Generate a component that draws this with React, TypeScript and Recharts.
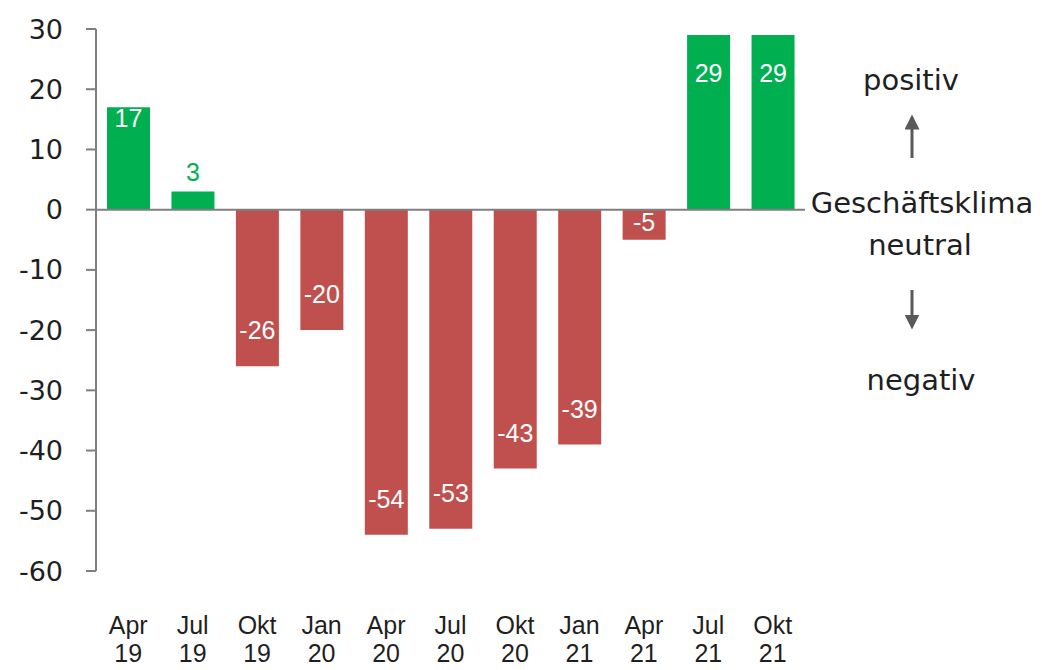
import { BarChart, Bar, XAxis, YAxis, Cell, LabelList, ReferenceLine } from 'recharts';

const quarters = ['Apr', 'Jul', 'Okt', 'Jan', 'Apr', 'Jul', 'Okt', 'Jan', 'Apr', 'Jul', 'Okt'];
const years = ['19', '19', '19', '20', '20', '20', '20', '21', '21', '21', '21'];
const klima = [17, 3, -26, -20, -54, -53, -43, -39, -5, 29, 29];
const yTicks = [30, 20, 10, 0, -10, -20, -30, -40, -50, -60];

const GREEN = '#00b050';
const RED = '#c0504d';
const AXIS = '#7f7f7f';
const TEXT = '#1f1f1f';

const data = klima.map((v, i) => ({ name: `${quarters[i]} ${years[i]}`, q: quarters[i], y: years[i], value: v }));

function XTick({ x, y, payload }: any) {
  const d = data[payload.index] ?? data.find((r) => r.name === payload.value);
  return (
    <text x={x} y={y} textAnchor="middle" fill={TEXT} fontSize={25} fontFamily="'Liberation Sans', Arial, sans-serif">
      <tspan x={x} dy={63}>{d?.q}</tspan>
      <tspan x={x} dy={28}>{d?.y}</tspan>
    </text>
  );
}

function ValueLabel({ x, y, width, height, value }: any) {
  const top = Math.min(y, y + height);
  const bottom = Math.max(y, y + height);
  const cx = x + width / 2;
  let cy = 0;
  let fill = '#ffffff';
  if (value >= 20) cy = top + 38;
  else if (value >= 10) cy = top + 11;
  else if (value > 0) {
    cy = top - 20;
    fill = GREEN;
  } else if (bottom - top > 60) cy = bottom - 36;
  else cy = (top + bottom) / 2 - 3;
  return (
    <text x={cx} y={cy} textAnchor="middle" dominantBaseline="central" fill={fill} fontSize={25} fontFamily="'Liberation Sans', Arial, sans-serif">
      {value}
    </text>
  );
}

const sideFont = "'DejaVu Sans', sans-serif";

export default function App() {
  return (
    <div style={{ position: 'absolute', left: 0, top: 0, width: 1042, height: 670, background: '#fff' }}>
      <BarChart width={1042} height={670} data={data} margin={{ top: 29, right: 237, left: 0, bottom: 0 }}>
        <YAxis
          domain={[-60, 30]}
          ticks={yTicks}
          interval={0}
          width={96}
          stroke={AXIS}
          strokeWidth={2}
          tickSize={10}
          tickMargin={23}
          tick={{ fill: TEXT, fontSize: 27, fontFamily: sideFont }}
        />
        <XAxis dataKey="name" height={99} axisLine={false} tickLine={false} tickSize={0} tickMargin={0} interval={0} tick={<XTick />} />
        <ReferenceLine y={0} stroke={AXIS} strokeWidth={2} />
        <Bar dataKey="value" barSize={43} isAnimationActive={false}>
          {data.map((d, i) => (
            <Cell key={i} fill={d.value >= 0 ? GREEN : RED} />
          ))}
          <LabelList dataKey="value" content={<ValueLabel />} />
        </Bar>
      </BarChart>
      <svg width={1042} height={670} style={{ position: 'absolute', left: 0, top: 0, pointerEvents: 'none' }}>
        <defs>
          <marker id="head" viewBox="0 0 10 10" refX="5" refY="5" markerWidth="5" markerHeight="5" orient="auto-start-reverse">
            <path d="M0,0 L10,5 L0,10 z" fill="#595959" />
          </marker>
        </defs>
        <g fontFamily={sideFont} fontSize={29} fill={TEXT} textAnchor="middle">
          <text x={911} y={90}>positiv</text>
          <text x={922} y={213}>Geschäftsklima</text>
          <text x={920} y={255}>neutral</text>
          <text x={921} y={390}>negativ</text>
        </g>
        <line x1={912} y1={158} x2={912} y2={122} stroke="#595959" strokeWidth={3} markerEnd="url(#head)" />
        <line x1={912} y1={290} x2={912} y2={322} stroke="#595959" strokeWidth={3} markerEnd="url(#head)" />
      </svg>
    </div>
  );
}
